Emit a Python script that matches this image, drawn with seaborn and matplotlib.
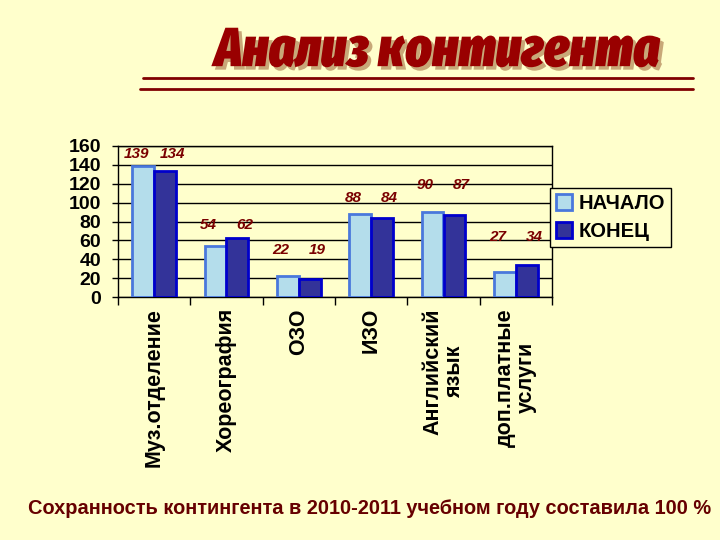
import matplotlib
matplotlib.use("Agg")
import matplotlib.pyplot as plt
import matplotlib.patheffects as pe
from matplotlib.lines import Line2D
from matplotlib.patches import Patch
from matplotlib import font_manager as fm
from matplotlib.ft2font import FT2Font
import seaborn as sns
import pandas as pd
import numpy as np

# ---- data ----
categories = ["Муз.отделение", "Хореография", "ОЗО", "ИЗО",
              "Английский\nязык", "доп.платные\nуслуги"]
series_names = ["НАЧАЛО", "КОНЕЦ"]
start_vals = [139, 54, 22, 88, 90, 27]
end_vals = [134, 62, 19, 84, 87, 34]
# height (in axis units) where the pair of value labels sits above each group
label_heights = [152, 76, 50, 105, 119, 64]
y_ticks = [0, 20, 40, 60, 80, 100, 120, 140, 160]

title_text = "Анализ контигента"
footer_text = "Сохранность контингента в 2010-2011 учебном году составила 100 %"


def pick_font(candidates, fallback="DejaVu Sans"):
    """First installed family that has Cyrillic glyphs."""
    for name in candidates:
        for f in fm.fontManager.ttflist:
            if f.name == name:
                try:
                    if ord("Ж") in FT2Font(f.fname).get_charmap():
                        return name
                except Exception:
                    pass
    return fallback


title_font = pick_font(["Fira Sans Extra Condensed", "Fira Sans Condensed",
                        "Roboto Condensed", "Oswald", "PT Sans Narrow",
                        "Liberation Sans Narrow"])
footer_font = pick_font(["Liberation Sans", "Arimo", "Roboto"])

df = pd.DataFrame({
    "cat": categories * 2,
    "series": [series_names[0]] * len(categories) + [series_names[1]] * len(categories),
    "val": start_vals + end_vals,
})

BG = "#FFFFCC"
fills = ["#B4DDEB", "#333399"]
edges = ["#4A78DC", "#0000CC"]
DARKRED = "#990000"

sns.set_theme(style="white")
plt.rcParams["font.family"] = ["Liberation Sans", "DejaVu Sans"]
plt.rcParams["text.color"] = "black"

fig = plt.figure(figsize=(7.2, 5.4), dpi=100, facecolor=BG)
ax = fig.add_axes([118 / 720, 1 - 297 / 540, (552 - 118) / 720, (297 - 146) / 540])
ax.set_facecolor(BG)

sns.barplot(data=df, x="cat", y="val", hue="series", order=categories,
            hue_order=series_names, palette=fills, width=0.6, ax=ax,
            legend=False, saturation=1, zorder=3)

for cont, ec in zip(ax.containers, edges):
    for bar in cont:
        bar.set_edgecolor(ec)
        bar.set_linewidth(2.0)

ax.set_ylim(0, 160)
ax.set_xlim(-0.5, len(categories) - 0.5)
ax.set_yticks(y_ticks)
ax.set_yticklabels([str(t) for t in y_ticks])
for lab in ax.get_yticklabels():
    lab.set_fontsize(14)
    lab.set_fontweight("bold")
    lab.set_color("black")
ax.yaxis.grid(True, color="black", linewidth=1.0, zorder=0)
ax.set_axisbelow(True)
ax.tick_params(axis="y", length=4, width=1, color="black", pad=8, left=True)

ax.set_xticks(range(len(categories)))
ax.set_xticklabels(categories, rotation=90, multialignment="center", linespacing=1.05)
for lab in ax.get_xticklabels():
    lab.set_fontsize(15.5)
    lab.set_fontweight("bold")
    lab.set_color("black")
ax.set_xticks(np.arange(-0.5, len(categories), 1.0), minor=True)
ax.tick_params(axis="x", which="major", length=0, pad=8)
ax.tick_params(axis="x", which="minor", length=6, width=1, color="black", bottom=True)
ax.set_xlabel("")
ax.set_ylabel("")

for side in ["left", "bottom", "right", "top"]:
    ax.spines[side].set_visible(True)
    ax.spines[side].set_color("black")
    ax.spines[side].set_linewidth(1.0)

# value labels
for i, (a, b, h) in enumerate(zip(start_vals, end_vals, label_heights)):
    ax.text(i - 0.25, h, str(a), ha="center", va="center", fontsize=11,
            style="italic", fontweight="bold", color="#7A0000")
    ax.text(i + 0.25, h, str(b), ha="center", va="center", fontsize=11,
            style="italic", fontweight="bold", color="#7A0000")

# legend
handles = [Patch(facecolor=f, edgecolor=e, linewidth=2) for f, e in zip(fills, edges)]
leg = fig.legend(handles, series_names, loc="upper left",
                 bbox_to_anchor=(550 / 720, 1 - 188 / 540),
                 frameon=True, fancybox=False, edgecolor="black", facecolor=BG,
                 framealpha=1, handlelength=0.8, handleheight=0.8, handletextpad=0.3,
                 borderpad=0.3, labelspacing=0.45, borderaxespad=0,
                 prop={"weight": "bold", "size": 14.5})
leg.get_frame().set_linewidth(1.0)
for t in leg.get_texts():
    t.set_color("black")

# title
title = fig.text(437 / 720, 1 - 51 / 540, title_text, ha="center", va="center",
                 fontsize=44, fontweight="black", style="italic",
                 family=[title_font, "DejaVu Sans"], color=DARKRED,
                 path_effects=[pe.SimplePatchShadow(offset=(2.5, -2.5),
                                                    shadow_rgbFace="#C8A878", alpha=1),
                               pe.Normal()])

fig.add_artist(Line2D([143 / 720, 693 / 720], [1 - 78 / 540] * 2, color="#800000", linewidth=2))
fig.add_artist(Line2D([140 / 720, 693 / 720], [1 - 89 / 540] * 2, color="#800000", linewidth=2))

# footer
footer = fig.text(370 / 720, 1 - 508 / 540, footer_text, ha="center", va="center",
                  fontsize=14, fontweight="bold",
                  family=[footer_font, "DejaVu Sans"], color="#660000")

# fit title / footer widths to the reference extents
renderer = fig.canvas.get_renderer()
for txt, target in [(title, 445), (footer, 684)]:
    for _ in range(3):
        w = txt.get_window_extent(renderer).width
        txt.set_fontsize(txt.get_fontsize() * target / w)

fig.savefig("out.png", dpi=100, facecolor=BG)
